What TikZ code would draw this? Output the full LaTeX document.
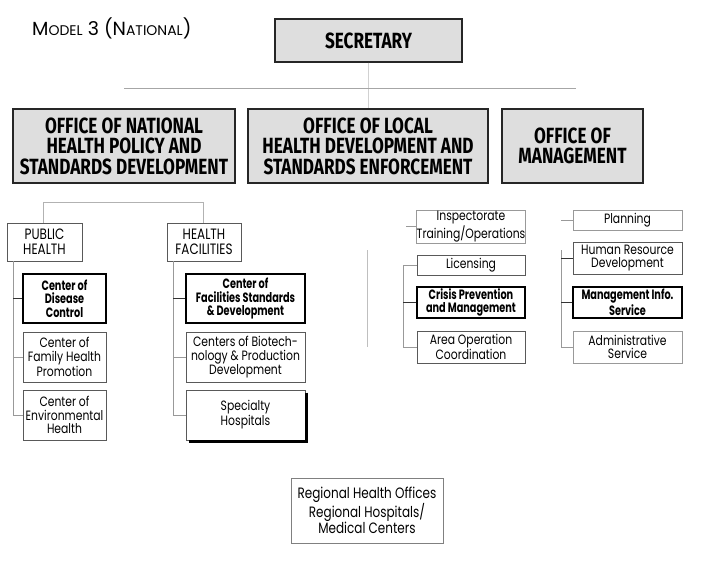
\documentclass[tikz,border=0pt]{standalone}
\usepackage{fontspec}
\setmainfont{Poppins}[FakeStretch=0.8, BoldFeatures={FakeStretch=0.72}]
\newfontfamily\offfont{Fira Sans}[FakeStretch=0.78]
\newfontfamily\ttlfont{Poppins}
\begin{document}
\begin{tikzpicture}[x=1pt,y=-1pt,
  office/.style={draw=black!85, line width=1.2pt, fill=black!13, inner sep=0pt, align=center,
    font=\offfont\bfseries\fontsize{22}{20.5}\selectfont},
  unit/.style={draw=black!65, line width=0.7pt, fill=white, inner sep=0pt, align=center,
    font=\fontsize{13.5}{13.7}\selectfont},
  bunit/.style={unit, draw=black, line width=1.3pt, font=\bfseries\fontsize{13.5}{13.7}\selectfont},
  funit/.style={unit, draw=black!40},
  conn/.style={draw=black!40, line width=0.6pt},
  dconn/.style={draw=black!80, line width=0.8pt}]
\useasboundingbox (0,0) rectangle (701,560);
\fill[white] (0,0) rectangle (701,560);

% title
\node[anchor=west, inner sep=0pt, font=\ttlfont\fontsize{19}{19}\selectfont] (title) at (32,28)
  {M{\fontsize{14}{14}\selectfont ODEL} 3 (N{\fontsize{14}{14}\selectfont ATIONAL})};

% top level
\node[office, minimum width=187, minimum height=43] (sec) at (368.5,40.5) {SECRETARY};
\node[office, minimum width=222, minimum height=74] (o1) at (124,146)
  {OFFICE OF NATIONAL\\HEALTH POLICY AND\\STANDARDS DEVELOPMENT};
\node[office, minimum width=240, minimum height=74] (o2) at (368,146)
  {OFFICE OF LOCAL\\HEALTH DEVELOPMENT AND\\STANDARDS ENFORCEMENT};
\node[office, minimum width=141, minimum height=74] (o3) at (572.5,146)
  {OFFICE OF\\MANAGEMENT};

\coordinate (bL) at (124,88);
\coordinate (bR) at (576,88);
\draw[conn, draw=black!18] (sec.south) -- (sec.south |- o2.north);
\draw[conn, draw=black!35] (bL) -- (bR);

% public health / health facilities
\node[unit, minimum width=75, minimum height=38, font=\fontsize{15}{15}\selectfont] (ph) at (44.5,242) {PUBLIC\\HEALTH};
\node[unit, minimum width=74, minimum height=38, font=\fontsize{15}{15}\selectfont] (hf) at (204,242) {HEALTH\\FACILITIES};
\draw[conn, draw=black!30] ([xshift=-1.5pt]ph.north) -- ++(0,-20) -| ([xshift=-1pt]hf.north);

\node[bunit, minimum width=83, minimum height=49] (cdc) at (64.5,298.5) {Center of\\Disease\\Control};
\node[unit, minimum width=83, minimum height=50] (cfh) at (64.5,357) {Center of\\Family Health\\Promotion};
\node[unit, minimum width=83, minimum height=50] (ceh) at (64.5,415) {Center of\\Environmental\\Health};

\coordinate (phs) at (13,261);
\draw[conn] (phs) |- (ceh.west);
\draw[dconn] (phs |- cdc.west) -- (cdc.west);
\draw[conn] (phs |- cfh.west) -- (cfh.west);

\node[bunit, minimum width=119, minimum height=49] (cfs) at (245.5,298.5) {Center of\\Facilities Standards\\\& Development};
\node[unit, minimum width=119, minimum height=50] (cbp) at (245.5,357) {Centers of Biotech-\\nology \& Production\\Development};
\node[unit, minimum width=119, minimum height=50] (sh) at (245.5,415) {Specialty\\Hospitals};
\draw[line width=2.4pt] ([xshift=1pt,yshift=-3pt]sh.north east) -- ([xshift=1pt,yshift=-1pt]sh.south east)
  -- ([xshift=3pt,yshift=-1pt]sh.south west);

\coordinate (hfs) at (173,261);
\draw[conn] (hfs) |- (sh.west);
\draw[dconn] (hfs |- cfs.west) -- (cfs.west);
\draw[conn] (hfs |- cbp.west) -- (cbp.west);

% local health development subtree
\node[funit, minimum width=108, minimum height=33] (ins) at (471,226.5) {Inspectorate\\Training/Operations};
\node[unit, minimum width=108, minimum height=20] (lic) at (471,265) {Licensing};
\node[bunit, minimum width=108, minimum height=31] (cri) at (471,302.5) {Crisis Prevention\\and Management};
\node[unit, minimum width=108, minimum height=32] (aoc) at (471,347) {Area Operation\\Coordination};

\coordinate (insb) at (406,226.5);
\draw[conn] (insb) -- (ins.west);
\coordinate (ls) at (403,265);
\draw[conn] (ls) -- (lic.west);
\draw[conn] (ls) |- (aoc.west);
\draw[dconn] (ls |- cri.west) -- (cri.west);
\coordinate (o2a) at (367,250);
\coordinate (o2b) at (367,347);
\draw[conn, draw=black!25] (o2a) -- (o2b);

% management subtree
\node[funit, minimum width=109, minimum height=20] (pla) at (627.5,220) {Planning};
\node[unit, minimum width=109, minimum height=32] (hrd) at (627.5,258) {Human Resource\\Development};
\node[bunit, minimum width=109, minimum height=31] (mis) at (627.5,302.5) {Management Info.\\Service};
\node[funit, minimum width=109, minimum height=32] (adm) at (627.5,347) {Administrative\\Service};

\coordinate (plb) at (561,220);
\draw[conn] (plb) -- (pla.west);
\coordinate (ms) at (561,250);
\draw[conn] (ms) |- (adm.west);
\draw[dconn] (ms |- hrd.west) -- (hrd.west);
\draw[dconn] (ms |- mis.west) -- (mis.west);

% regional
\node[unit, draw=black!50, minimum width=152, minimum height=65, font=\fontsize{15}{15}\selectfont] (reg) at (367,510.5)
  {Regional Health Offices\\Regional Hospitals/\\Medical Centers};
\end{tikzpicture}
\end{document}
